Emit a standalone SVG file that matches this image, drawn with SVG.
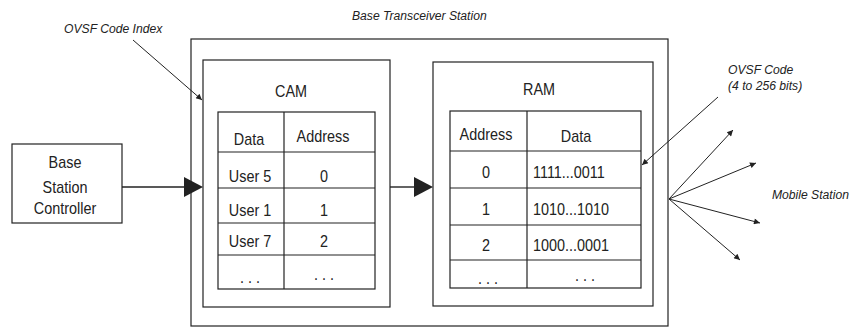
<svg xmlns="http://www.w3.org/2000/svg" width="853" height="328" viewBox="0 0 853 328">
  <style>
    .box { fill: none; stroke: #222; stroke-width: 1.2; }
    .grid { fill: none; stroke: #222; stroke-width: 1.2; }
    .txt { font-family: "Liberation Sans", Arial, sans-serif; font-size: 16px; fill: #222; }
    .lbl { font-family: "Liberation Sans", Arial, sans-serif; font-size: 13.5px; font-style: italic; fill: #222; }
    .thin { stroke: #222; stroke-width: 1; fill: none; }
    .thick { stroke: #222; stroke-width: 1.4; fill: none; }
  </style>
  <defs>
    <marker id="small" viewBox="0 0 10 10" refX="10" refY="5" markerWidth="9" markerHeight="6" markerUnits="userSpaceOnUse" orient="auto">
      <path d="M0,0 L10,5 L0,10 z" fill="#222"/>
    </marker>
  </defs>

  <rect width="853" height="328" fill="#fff"/>

  <!-- Base Transceiver Station enclosure -->
  <g id="bts">
    <rect class="box" x="191" y="39" width="477" height="287" stroke-width="1"/>
    <text class="lbl" transform="translate(352 20) scale(0.9 1)">Base Transceiver Station</text>
  </g>

  <!-- Base Station Controller -->
  <g id="bsc">
    <rect class="box" x="12" y="144" width="110" height="79"/>
    <text class="txt" text-anchor="middle" transform="translate(65 168) scale(0.9 1)">Base</text>
    <text class="txt" text-anchor="middle" transform="translate(65 193) scale(0.9 1)">Station</text>
    <text class="txt" text-anchor="middle" transform="translate(65 214) scale(0.9 1)">Controller</text>
  </g>

  <!-- CAM lookup table -->
  <g id="cam">
    <rect class="box" x="203" y="60" width="187" height="247"/>
    <text class="txt" text-anchor="middle" transform="translate(291 97) scale(0.9 1)">CAM</text>
    <rect class="grid" x="218" y="112" width="157" height="177"/>
    <line class="grid" x1="284" y1="112" x2="284" y2="289"/>
    <line class="grid" x1="218" y1="152" x2="375" y2="152"/>
    <line class="grid" x1="218" y1="188" x2="375" y2="188"/>
    <line class="grid" x1="218" y1="223" x2="375" y2="223"/>
    <line class="grid" x1="218" y1="255" x2="375" y2="255"/>
    <text class="txt" text-anchor="middle" transform="translate(249 145) scale(0.9 1)">Data</text>
    <text class="txt" text-anchor="middle" transform="translate(323 142) scale(0.9 1)">Address</text>
    <text class="txt" text-anchor="middle" transform="translate(250 182) scale(0.9 1)">User 5</text>
    <text class="txt" text-anchor="middle" transform="translate(324 182) scale(0.9 1)">0</text>
    <text class="txt" text-anchor="middle" transform="translate(250 216) scale(0.9 1)">User 1</text>
    <text class="txt" text-anchor="middle" transform="translate(324 216) scale(0.9 1)">1</text>
    <text class="txt" text-anchor="middle" transform="translate(250 247) scale(0.9 1)">User 7</text>
    <text class="txt" text-anchor="middle" transform="translate(324 247) scale(0.9 1)">2</text>
    <text class="txt" text-anchor="middle" transform="translate(250 283) scale(0.9 1)">. . .</text>
    <text class="txt" text-anchor="middle" transform="translate(324 280) scale(0.9 1)">. . .</text>
  </g>

  <!-- RAM code table -->
  <g id="ram">
    <rect class="box" x="433" y="62" width="220" height="244"/>
    <text class="txt" text-anchor="middle" transform="translate(539 95) scale(0.9 1)">RAM</text>
    <rect class="grid" x="450" y="111" width="191" height="177"/>
    <line class="grid" x1="527" y1="111" x2="527" y2="288"/>
    <line class="grid" x1="450" y1="151" x2="641" y2="151"/>
    <line class="grid" x1="450" y1="188" x2="641" y2="188"/>
    <line class="grid" x1="450" y1="225" x2="641" y2="225"/>
    <line class="grid" x1="450" y1="260" x2="641" y2="260"/>
    <text class="txt" text-anchor="middle" transform="translate(486 140) scale(0.9 1)">Address</text>
    <text class="txt" text-anchor="middle" transform="translate(576 142) scale(0.9 1)">Data</text>
    <text class="txt" text-anchor="middle" transform="translate(486 178) scale(0.9 1)">0</text>
    <text class="txt" transform="translate(533 178) scale(0.9 1)">1111...0011</text>
    <text class="txt" text-anchor="middle" transform="translate(486 215) scale(0.9 1)">1</text>
    <text class="txt" transform="translate(533 215) scale(0.9 1)">1010...1010</text>
    <text class="txt" text-anchor="middle" transform="translate(486 251) scale(0.9 1)">2</text>
    <text class="txt" transform="translate(533 251) scale(0.9 1)">1000...0001</text>
    <text class="txt" text-anchor="middle" transform="translate(488 284) scale(0.9 1)">. . .</text>
    <text class="txt" text-anchor="middle" transform="translate(585 281) scale(0.9 1)">. . .</text>
  </g>

  <!-- Mobile station label -->
  <g id="mobile">
    <text class="lbl" transform="translate(772 199) scale(0.9 1)">Mobile Station</text>
  </g>

  <!-- Callout labels -->
  <g id="labels">
    <text class="lbl" transform="translate(64 33) scale(0.9 1)">OVSF Code Index</text>
    <text class="lbl" transform="translate(728 74) scale(0.9 1)">OVSF Code</text>
    <text class="lbl" transform="translate(728 90) scale(0.9 1)">(4 to 256 bits)</text>
  </g>

  <!-- Connectors -->
  <g id="connectors">
    <line class="thick" x1="122" y1="187" x2="186" y2="187"/>
    <path d="M184,177 L203,187 L184,197 z" fill="#222"/>
    <line class="thick" x1="390" y1="187" x2="416" y2="187"/>
    <path d="M414,177 L433,187 L414,197 z" fill="#222"/>
    <line class="thin" x1="133" y1="40" x2="202" y2="100" marker-end="url(#small)"/>
    <line class="thin" x1="718" y1="97" x2="642" y2="165" marker-end="url(#small)"/>
    <line class="thin" x1="669" y1="199" x2="733" y2="130" marker-end="url(#small)"/>
    <line class="thin" x1="669" y1="199" x2="756" y2="163" marker-end="url(#small)"/>
    <line class="thin" x1="669" y1="199" x2="760" y2="223" marker-end="url(#small)"/>
    <line class="thin" x1="669" y1="199" x2="740" y2="260" marker-end="url(#small)"/>
  </g>
</svg>
